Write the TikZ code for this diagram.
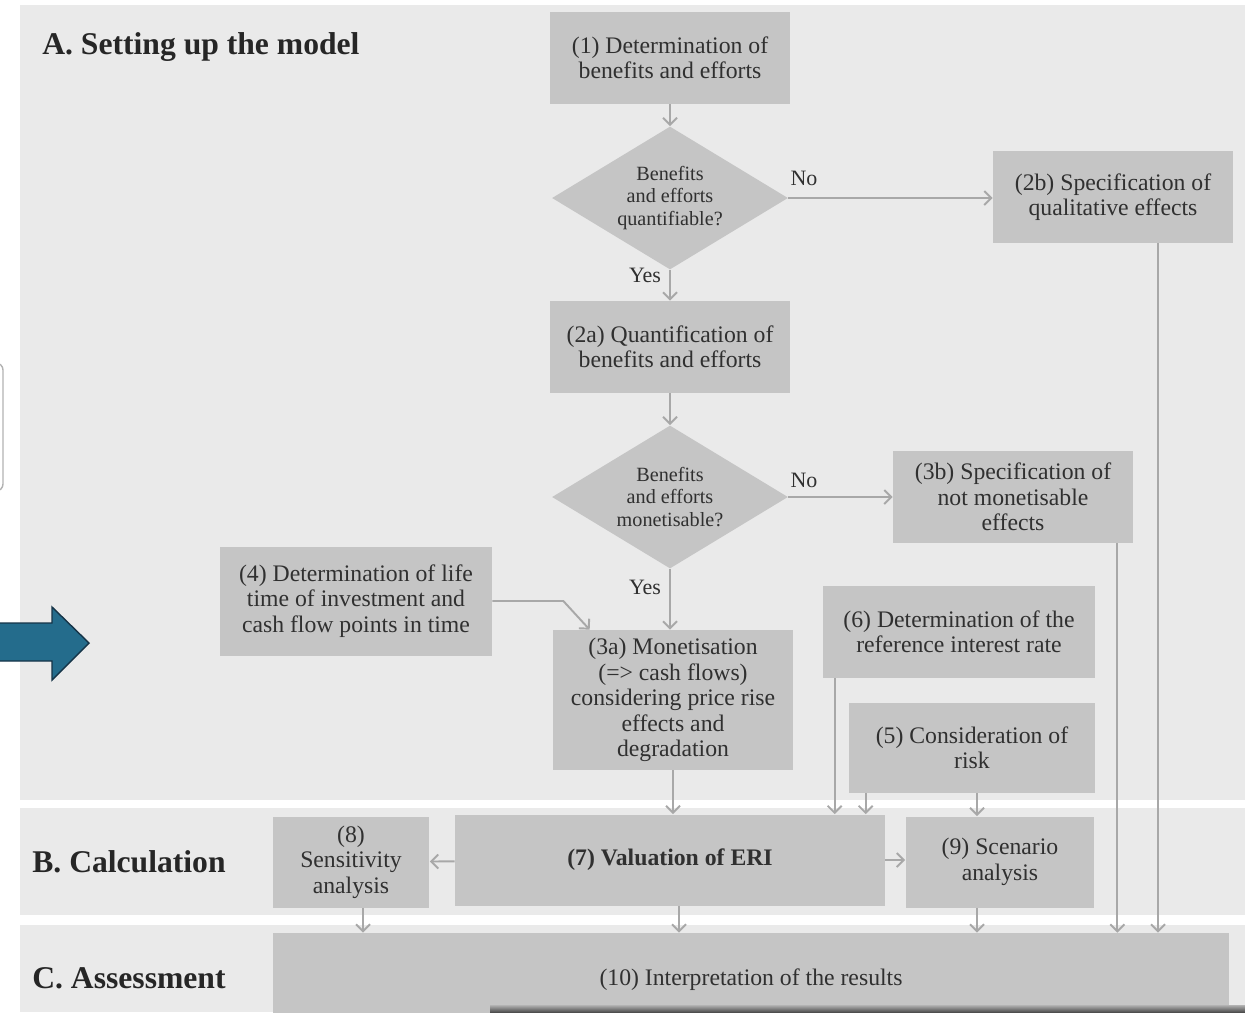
\documentclass[tikz,border=0pt]{standalone}
\usepackage{fontspec}
\setmainfont{Liberation Serif}
\usetikzlibrary{shapes.geometric, arrows.meta, positioning, calc}
\definecolor{panelgray}{RGB}{234,234,234}
\definecolor{boxgray}{RGB}{197,197,197}
\definecolor{linegray}{RGB}{168,168,168}
\definecolor{txtgray}{RGB}{48,48,48}
\definecolor{arrowblue}{RGB}{36,108,140}
\definecolor{arrowedge}{RGB}{22,52,72}
\tikzset{
  box/.style={rectangle, fill=boxgray, text=txtgray, align=center,
    inner sep=2pt, font=\fontsize{13.5}{14.5}\selectfont},
  boxM/.style={box, minimum width=4.8cm, minimum height=1.84cm},
  dec/.style={diamond, fill=boxgray, text=txtgray, align=center,
    aspect=1.65, minimum width=4.72cm, minimum height=2.86cm,
    inner sep=0pt, font=\fontsize{11.5}{13}\selectfont},
  sect/.style={font=\fontsize{18}{20}\selectfont\bfseries,
    text=black!85, anchor=west, inner sep=0pt},
  lbl/.style={font=\fontsize{12.5}{14}\selectfont, text=txtgray, inner sep=0pt},
  arr/.style={-{Straight Barb[length=4pt,width=8pt]}, line width=1.1pt,
    draw=linegray},
}

\begin{document}
\begin{tikzpicture}[x=0.02cm, y=-0.02cm]
  \useasboundingbox (0,0) rectangle (1245,1012);
  \clip (0,0) rectangle (1245,1012);

  % section panels
  \fill[panelgray] (20,5)   rectangle (1245,800);
  \fill[panelgray] (20,808) rectangle (1245,915);
  \fill[panelgray] (20,925) rectangle (1245,1012);

  % cut-off frame and blue arrow at the left edge
  \draw[black!30, line width=0.8pt, rounded corners=4pt]
       (-20,363) -- (3,363) -- (3,491) -- (-20,491);
  \filldraw[fill=arrowblue, draw=arrowedge, line width=0.8pt]
       (-5,623) -- (52,623) -- (52,607) -- (89,643)
       -- (52,680) -- (52,661) -- (-5,661) -- cycle;

  \node[sect] (secA) at (42,47)  {A. Setting up the model};
  \node[sect] (secB) at (32,862) {B. Calculation};
  \node[sect] (secC) at (32,978) {C. Assessment};

  \node[boxM] (det) at (670,58)
        {(1) Determination of\\benefits and efforts};
  \node[dec] (qd) at (670,198)
        {Benefits\\and efforts\\quantifiable?};
  \node[boxM] (qual) at (1113,197)
        {(2b) Specification of\\qualitative effects};
  \node[boxM] (quant) at (670,347)
        {(2a) Quantification of\\benefits and efforts};
  \node[dec] (md) at (670,497)
        {Benefits\\and efforts\\monetisable?};
  \node[boxM] (notmon) at (1013,497)
        {(3b) Specification of\\not monetisable\\effects};
  \node[box, minimum width=5.44cm, minimum height=2.18cm] (life) at (356,601)
        {(4) Determination of life\\time of investment and\\cash flow points in time};
  \node[boxM, minimum height=2.8cm] (mon) at (673,700)
        {(3a) Monetisation\\(=> cash flows)\\considering price rise\\effects and\\degradation};
  \node[box, minimum width=5.44cm, minimum height=1.84cm] (rate) at (959,632)
        {(6) Determination of the\\reference interest rate};
  \node[box, minimum width=4.92cm, minimum height=1.8cm] (risk) at (972,748)
        {(5) Consideration of\\risk};
  \node[box, minimum width=8.6cm, minimum height=1.82cm,
        font=\fontsize{13.5}{14.5}\selectfont\bfseries] (val) at (670,860)
        {(7) Valuation of ERI};
  \node[box, minimum width=3.14cm, minimum height=1.82cm] (sens) at (351,862)
        {(8)\\Sensitivity\\analysis};
  \node[box, minimum width=3.78cm, minimum height=1.82cm] (scen) at (1000,862)
        {(9) Scenario\\analysis};
  \node[box, minimum width=19.14cm, minimum height=1.88cm] (interp) at (751,980)
        {(10) Interpretation of the results};

  \node[lbl] (no1)  at (804,178) {No};
  \node[lbl] (yes1) at (645,275) {Yes};
  \node[lbl] (no2)  at (804,480) {No};
  \node[lbl] (yes2) at (645,587) {Yes};

  \draw[arr] (det) -- (qd);
  \draw[arr] (qd.east) -- (qd.east -| qual.west);
  \draw[arr] (qd) -- (quant);
  \draw[arr] (quant) -- (md);
  \draw[arr] (md) -- (notmon);
  \draw[arr] (md.south) -- (md.south |- mon.north);
  \draw[arr] (life.east) -- ++(71,0) -- ([xshift=0.74cm]mon.north west);
  \draw[arr] (mon.south) -- (mon.south |- val.north);
  \draw[arr] ([xshift=0.24cm]rate.south west) coordinate (r1) -- (r1 |- val.north);
  \draw[arr] ([xshift=0.34cm]risk.south west) coordinate (k1) -- (k1 |- val.north);
  \draw[arr] ([xshift=0.1cm]risk.south) coordinate (k2) -- (k2 |- scen.north);
  \draw[arr] (val) -- (sens);
  \draw[arr] (val.east) -- (val.east -| scen.west);
  \draw[arr] ([xshift=0.24cm]sens.south) coordinate (s1) -- (s1 |- interp.north);
  \draw[arr] ([xshift=0.18cm]val.south) coordinate (v1) -- (v1 |- interp.north);
  \draw[arr] ([xshift=-0.46cm]scen.south) coordinate (c1) -- (c1 |- interp.north);
  \draw[arr] ([xshift=-0.32cm]notmon.south east) coordinate (m1) -- (m1 |- interp.north);
  \draw[arr] ([xshift=0.9cm]qual.south) coordinate (q1) -- (q1 |- interp.north);

  % dark edge along the bottom
  \shade[top color=black!30, bottom color=black!75] (490,1005) rectangle (1245,1013);
\end{tikzpicture}
\end{document}
